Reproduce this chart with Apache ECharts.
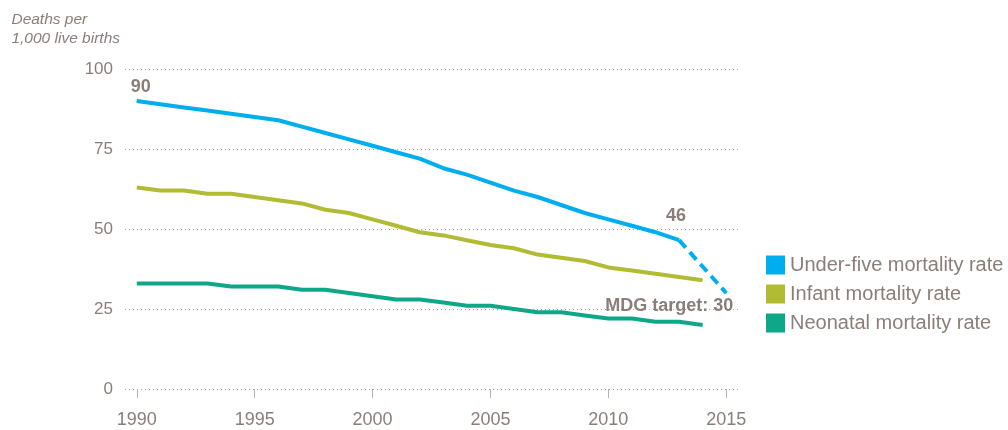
<!DOCTYPE html>
<html>
<head>
<meta charset="utf-8">
<script src="https://cdn.jsdelivr.net/npm/echarts@6/dist/echarts.min.js"></script>
<style>
  html, body { margin: 0; padding: 0; background: #fff; }
  #main { width: 1008px; height: 430px; }
</style>
</head>
<body>
<div id="main"></div>
<script>
  // 数据
  var years = [1990, 1991, 1992, 1993, 1994, 1995, 1996, 1997, 1998, 1999, 2000, 2001, 2002,
               2003, 2004, 2005, 2006, 2007, 2008, 2009, 2010, 2011, 2012, 2013, 2014];
  var underFive = [90, 89, 88, 87, 86, 85, 84, 82, 80, 78, 76, 74, 72,
                   69, 67, 64.5, 62, 60, 57.5, 55, 53, 51, 49, 46.5];
  var infant = [63, 62, 62, 61, 61, 60, 59, 58, 56, 55, 53, 51, 49,
                48, 46.5, 45, 44, 42, 41, 40, 38, 37, 36, 35, 34];
  var neonatal = [33, 33, 33, 33, 32, 32, 32, 31, 31, 30, 29, 28, 28,
                  27, 26, 26, 25, 24, 24, 23, 22, 22, 21, 21, 20];
  var targetYears = [2013, 2015];
  var targetValues = [46.5, 30];
  var xTicks = [1990, 1995, 2000, 2005, 2010, 2015];
  var seriesNames = ['Under-five mortality rate', 'Infant mortality rate', 'Neonatal mortality rate'];

  var textColor = '#8a7e7a';
  var fontFamily = '"Liberation Sans", Arial, sans-serif';

  function toPairs(vals) {
    return vals.map(function (v, i) { return [years[i], v]; });
  }

  var u5Data = toPairs(underFive);
  // "90" 标签
  u5Data[0] = {
    value: u5Data[0],
    label: { show: true, position: 'top', distance: 4, offset: [4, 0], formatter: '90' }
  };

  var targetData = [
    {
      value: [targetYears[0], targetValues[0]],
      label: { show: true, position: 'top', distance: 6, offset: [-3, -9], formatter: '46' }
    },
    {
      value: [targetYears[1], targetValues[1]],
      label: { show: true, position: 'bottom', distance: 4, offset: [-57, 0], formatter: 'MDG target: 30' }
    }
  ];

  var boldLabel = {
    color: textColor,
    fontSize: 18,
    fontWeight: 'bold',
    fontFamily: fontFamily
  };

  var option = {
    animation: false,
    textStyle: { fontFamily: fontFamily },
    graphic: [{
      type: 'text',
      right: 1008 - 120,
      top: 10,
      style: {
        text: 'Deaths per\n1,000 live births',
        fill: textColor,
        fontSize: 15.5,
        fontStyle: 'italic',
        fontFamily: fontFamily,
        align: 'right',
        lineHeight: 19
      }
    }],
    legend: {
      data: seriesNames,
      orient: 'vertical',
      left: 766,
      top: 255,
      padding: 0,
      itemWidth: 19,
      itemHeight: 19,
      itemGap: 9,
      icon: 'rect',
      textStyle: { color: textColor, fontSize: 20, fontFamily: fontFamily }
    },
    grid: {
      left: 125,
      right: 270,
      top: 69,
      bottom: 41
    },
    xAxis: {
      type: 'value',
      min: 1989.5,
      max: 2015.5,
      axisLine: { show: false },
      splitLine: { show: false },
      axisTick: {
        show: true,
        customValues: xTicks,
        length: 9,
        lineStyle: { color: '#b8b0ad', width: 1 }
      },
      axisLabel: {
        customValues: xTicks,
        color: textColor,
        fontSize: 18,
        margin: 22,
        formatter: function (v) { return String(v); }
      }
    },
    yAxis: {
      type: 'value',
      min: 0,
      max: 100,
      interval: 25,
      axisLine: { show: false },
      axisTick: { show: false },
      axisLabel: { color: textColor, fontSize: 17, margin: 12 },
      splitLine: {
        show: true,
        lineStyle: { color: '#a59e9b', width: 1, type: [1, 3] }
      }
    },
    series: [
      {
        name: seriesNames[0],
        type: 'line',
        data: u5Data,
        symbol: 'circle',
        symbolSize: 1,
        color: '#00aeef',
        lineStyle: { width: 4, color: '#00aeef' },
        label: boldLabel,
        z: 4
      },
      {
        name: seriesNames[1],
        type: 'line',
        data: toPairs(infant),
        symbol: 'none',
        color: '#b2bb34',
        lineStyle: { width: 4, color: '#b2bb34' },
        z: 3
      },
      {
        name: seriesNames[2],
        type: 'line',
        data: toPairs(neonatal),
        symbol: 'none',
        color: '#0ea889',
        lineStyle: { width: 4, color: '#0ea889' },
        z: 3
      },
      {
        name: 'MDG target',
        type: 'line',
        data: targetData,
        symbol: 'circle',
        symbolSize: 1,
        color: '#00aeef',
        lineStyle: { width: 4, color: '#00aeef', type: [10, 6] },
        label: boldLabel,
        z: 4
      }
    ]
  };

  var myChart = echarts.init(document.getElementById('main'));
  myChart.setOption(option);
</script>
</body>
</html>
